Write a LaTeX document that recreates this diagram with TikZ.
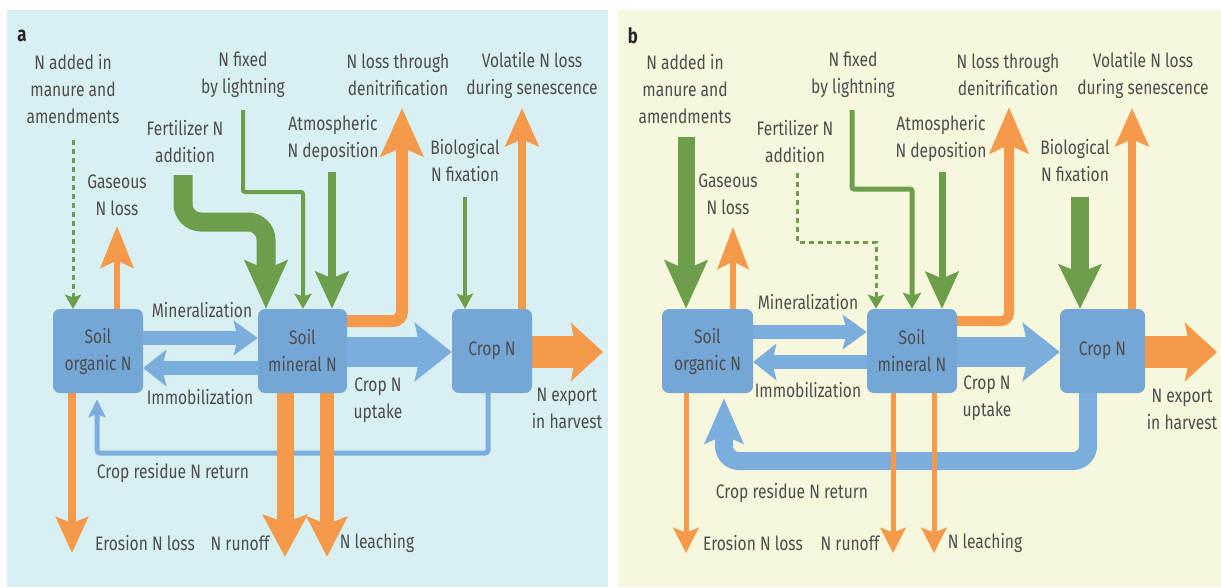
\documentclass[tikz,border=0pt]{standalone}
\usepackage{fontspec}
\setmainfont{Fira Sans}[FakeStretch=0.8]
\usetikzlibrary{arrows.meta,calc}
\pgfdeclarelayer{back}\pgfdeclarelayer{bg}\pgfsetlayers{back,bg,main}
\definecolor{bgA}{HTML}{D9F0F2}
\definecolor{bgB}{HTML}{F7F7DE}
\definecolor{boxblue}{HTML}{74A6D6}
\definecolor{arrblue}{HTML}{7BAEDD}
\definecolor{orng}{HTML}{F49A4A}
\definecolor{grn}{HTML}{6D9E4B}
\definecolor{txt}{HTML}{4D4D4D}
\begin{document}
\begin{tikzpicture}[x=1pt,y=-1pt,
  every node/.style={text=txt, font=\fontsize{19.5}{27}\selectfont, align=center, inner sep=0pt},
  pool/.style={fill=boxblue, rounded corners=7pt, minimum height=84pt},
  panel/.style={font=\fontsize{21}{24}\selectfont\bfseries, text=black!85},
  hd/.style 2 args={-{Stealth[length=#1pt,width=#2pt,inset'=0pt 0.18]}},
  og/.style={orng, line width=#1pt},
  gr/.style={grn, line width=#1pt},
  bl/.style={arrblue, line width=#1pt},
  dsh/.style={dash pattern=on 5pt off 4pt}
]
\useasboundingbox (0,0) rectangle (1221,587);
\begin{pgfonlayer}{back}
\fill[white] (0,0) rectangle (1221,587);
\fill[bgA] (7,10) rectangle (608,587);
\fill[bgB] (618,10) rectangle (1221,587);
\end{pgfonlayer}

% ================= PANEL A =================
\node[panel] (a-lab) at (22,36) {a};
\node[pool, minimum width=90pt] (a-so) at (98,351) {Soil\\organic N};
\node[pool, minimum width=89pt] (a-sm) at (302.5,351) {Soil\\mineral N};
\node[pool, minimum width=80pt] (a-cr) at (492,351) {Crop N};

\node (a-t-man) at (73,89) {N added in\\manure and\\amendments};
\node (a-t-lig) at (243,75) {N fixed\\by lightning};
\node (a-t-fer) at (185,142) {Fertilizer N\\addition};
\node (a-t-atm) at (333,138) {Atmospheric\\N deposition};
\node (a-t-den) at (398,75) {N loss through\\denitrification};
\node (a-t-vol) at (532,75) {Volatile N loss\\during senescence};
\node (a-t-bio) at (465,161) {Biological\\N fixation};
\node (a-t-gas) at (117,195) {Gaseous\\N loss};
\node (a-t-min) at (202,310) {Mineralization};
\node (a-t-imm) at (200,397) {Immobilization};
\node (a-t-upt) at (378,400) {Crop N\\uptake};
\node (a-t-exp) at (567,408) {N export\\in harvest};
\node (a-t-res) at (173,473) {Crop residue N return};
\node (a-t-ero) at (145,543) {Erosion N loss};
\node (a-t-run) at (240,543) {N runoff};
\node (a-t-lea) at (377,543) {N leaching};

\coordinate (a-manS) at (73,140);
\coordinate (a-gasT) at (117,226);
\coordinate (a-fS) at (183,175);
\coordinate (a-fC1) at (183,222);
\coordinate (a-fC2) at (266,222);
\coordinate (a-lS) at (243,110);
\coordinate (a-lC1) at (243,192);
\coordinate (a-lC2) at (303,192);
\coordinate (a-atS) at (332,172);
\coordinate (a-denC) at (402,321);
\coordinate (a-denT) at (402,108);
\coordinate (a-volT) at (522,108);
\coordinate (a-bioS) at (465,197);
\coordinate (a-min) at (200,338);
\coordinate (a-imm) at (200,368);
\coordinate (a-upt) at (400,352);
\coordinate (a-expT) at (603,352);
\coordinate (a-resR) at (488,453);
\coordinate (a-resL) at (97,453);
\coordinate (a-eroT) at (72,553);
\coordinate (a-runT) at (285,557);
\coordinate (a-leaT) at (327,557);

\begin{pgfonlayer}{bg}
\draw[gr=3, dsh, hd={14}{16}] (a-manS) -- (a-so.north -| a-manS);
\draw[og=6, hd={42}{33}] (a-so.north -| a-gasT) -- (a-gasT);
\draw[gr=19, rounded corners=18pt, hd={48}{42}] (a-fS) -- (a-fC1) -- (a-fC2) -- (a-sm.north -| a-fC2);
\draw[gr=4, rounded corners=2pt, hd={15}{17}] (a-lS) -- (a-lC1) -- (a-lC2) -- (a-sm.north -| a-lC2);
\draw[gr=8, hd={37}{33}] (a-atS) -- (a-sm.north -| a-atS);
\draw[og=12, rounded corners=9pt, hd={48}{42}] (a-sm.east |- a-denC) -- (a-denC) -- (a-denT);
\draw[og=8, hd={38}{33}] (a-cr.north -| a-volT) -- (a-volT);
\draw[gr=4, hd={15}{16}] (a-bioS) -- (a-cr.north -| a-bioS);
\draw[bl=14, hd={24}{34}] (a-so.east |- a-min) -- (a-sm.west |- a-min);
\draw[bl=14, hd={23}{36}] (a-sm.west |- a-imm) -- (a-so.east |- a-imm);
\draw[bl=30, hd={37}{58}] (a-sm.east |- a-upt) -- (a-cr.west |- a-upt);
\draw[og=32, hd={32}{58}] (a-cr.east |- a-expT) -- (a-expT);
\draw[bl=5, rounded corners=3pt, hd={18}{17}, shorten >=6pt] (a-cr.south -| a-resR) -- (a-resR) -- (a-resL) -- (a-so.south -| a-resL);
\draw[og=8, hd={36}{32}] (a-so.south -| a-eroT) -- (a-eroT);
\draw[og=17, hd={42}{44}] (a-sm.south -| a-runT) -- (a-runT);
\draw[og=14, hd={40}{40}] (a-sm.south -| a-leaT) -- (a-leaT);
\end{pgfonlayer}

% ================= PANEL B =================
\node[panel] (b-lab) at (633,36) {b};
\node[pool, minimum width=91pt] (b-so) at (707.5,351) {Soil\\organic N};
\node[pool, minimum width=90pt] (b-sm) at (912,351) {Soil\\mineral N};
\node[pool, minimum width=85pt] (b-cr) at (1102.5,351) {Crop N};

\node (b-t-man) at (685,89) {N added in\\manure and\\amendments};
\node (b-t-lig) at (853,75) {N fixed\\by lightning};
\node (b-t-fer) at (795,142) {Fertilizer N\\addition};
\node (b-t-atm) at (941,138) {Atmospheric\\N deposition};
\node (b-t-den) at (1008,75) {N loss through\\denitrification};
\node (b-t-vol) at (1143,75) {Volatile N loss\\during senescence};
\node (b-t-bio) at (1075,161) {Biological\\N fixation};
\node (b-t-gas) at (728,194) {Gaseous\\N loss};
\node (b-t-min) at (808,302) {Mineralization};
\node (b-t-imm) at (808,390) {Immobilization};
\node (b-t-upt) at (987,398) {Crop N\\uptake};
\node (b-t-exp) at (1182,409) {N export\\in harvest};
\node (b-t-res) at (792,493) {Crop residue N return};
\node (b-t-ero) at (753,543) {Erosion N loss};
\node (b-t-run) at (850,543) {N runoff};
\node (b-t-lea) at (985,543) {N leaching};

\coordinate (b-manS) at (686,137);
\coordinate (b-gasT) at (733,227);
\coordinate (b-fS) at (797,173);
\coordinate (b-fC1) at (797,242);
\coordinate (b-fC2) at (876,242);
\coordinate (b-lS) at (852,110);
\coordinate (b-lC1) at (852,189);
\coordinate (b-lC2) at (912,189);
\coordinate (b-atS) at (942,172);
\coordinate (b-denC) at (1009,321);
\coordinate (b-denT) at (1009,107);
\coordinate (b-volT) at (1132,108);
\coordinate (b-bioS) at (1080,197);
\coordinate (b-min) at (810,332);
\coordinate (b-imm) at (810,362);
\coordinate (b-upt) at (1010,352);
\coordinate (b-expT) at (1217,352);
\coordinate (b-resR) at (1088,461);
\coordinate (b-resL) at (724,461);
\coordinate (b-eroT) at (686,553);
\coordinate (b-runT) at (893,553);
\coordinate (b-leaT) at (934,553);

\begin{pgfonlayer}{bg}
\draw[gr=17, hd={48}{42}] (b-manS) -- (b-so.north -| b-manS);
\draw[og=6, hd={42}{31}] (b-so.north -| b-gasT) -- (b-gasT);
\draw[gr=3, dsh, hd={14}{16}] (b-fS) -- (b-fC1) -- (b-fC2) -- (b-sm.north -| b-fC2);
\draw[gr=5, rounded corners=2pt, hd={16}{18}] (b-lS) -- (b-lC1) -- (b-lC2) -- (b-sm.north -| b-lC2);
\draw[gr=7, hd={37}{33}] (b-atS) -- (b-sm.north -| b-atS);
\draw[og=10, rounded corners=8pt, hd={46}{38}] (b-sm.east |- b-denC) -- (b-denC) -- (b-denT);
\draw[og=8, hd={38}{33}] (b-cr.north -| b-volT) -- (b-volT);
\draw[gr=18, hd={44}{42}] (b-bioS) -- (b-cr.north -| b-bioS);
\draw[bl=14, hd={24}{34}] (b-so.east |- b-min) -- (b-sm.west |- b-min);
\draw[bl=14, hd={23}{36}] (b-sm.west |- b-imm) -- (b-so.east |- b-imm);
\draw[bl=30, hd={37}{58}] (b-sm.east |- b-upt) -- (b-cr.west |- b-upt);
\draw[og=32, hd={32}{58}] (b-cr.east |- b-expT) -- (b-expT);
\draw[bl=18, rounded corners=15pt, hd={45}{38}, shorten >=5pt] (b-cr.south -| b-resR) -- (b-resR) -- (b-resL) -- (b-so.south -| b-resL);
\draw[og=5, hd={25}{25}] (b-so.south -| b-eroT) -- (b-eroT);
\draw[og=5, hd={25}{25}] (b-sm.south -| b-runT) -- (b-runT);
\draw[og=5, hd={25}{25}] (b-sm.south -| b-leaT) -- (b-leaT);
\end{pgfonlayer}
\end{tikzpicture}
\end{document}
